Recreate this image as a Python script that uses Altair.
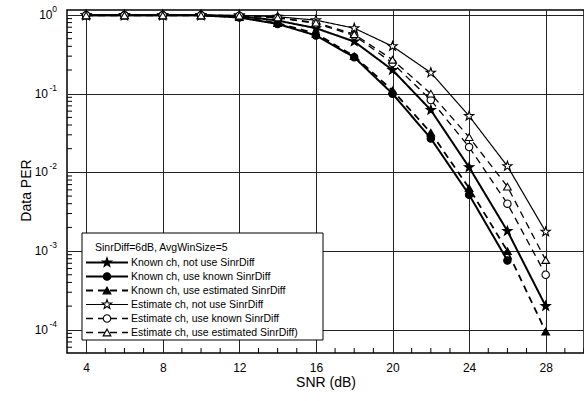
import altair as alt
import pandas as pd

# ---------------- data ----------------
snr = [4, 6, 8, 10, 12, 14, 16, 18, 20, 22, 24, 26, 28]
names = [
    "Known ch, not use SinrDiff",
    "Known ch, use known SinrDiff",
    "Known ch, use estimated SinrDiff",
    "Estimate ch, not use SinrDiff",
    "Estimate ch, use known SinrDiff",
    "Estimate ch, use estimated SinrDiff)",
]
known_no = [0.99, 0.99, 0.99, 0.99, 0.97, 0.85, 0.68, 0.46, 0.20, 0.062, 0.0116, 0.0018, 0.0002]
known_known = [0.99, 0.99, 0.99, 0.99, 0.93, 0.77, 0.55, 0.29, 0.10, 0.027, 0.0052, 0.00076]
known_est = [0.99, 0.99, 0.99, 0.99, 0.94, 0.79, 0.58, 0.30, 0.11, 0.032, 0.0063, 0.0010, 0.000095]
est_no = [0.99, 0.99, 0.99, 0.99, 0.99, 0.95, 0.86, 0.68, 0.40, 0.185, 0.052, 0.012, 0.00176]
est_known = [0.99, 0.99, 0.99, 0.99, 0.98, 0.92, 0.78, 0.55, 0.245, 0.083, 0.021, 0.004, 0.0005]
est_est = [0.99, 0.99, 0.99, 0.99, 0.98, 0.93, 0.80, 0.57, 0.27, 0.10, 0.028, 0.0066, 0.00077]
series_values = [known_no, known_known, known_est, est_no, est_known, est_est]

x_ticks = [4, 8, 12, 16, 20, 24, 28]
y_decades = [0, -1, -2, -3, -4]
legend_title = "SinrDiff=6dB, AvgWinSize=5"

# ---------------- styles ----------------
STAR = ("M0,-1L0.235,-0.324L0.951,-0.309L0.380,0.124L0.588,0.809L0,0.4"
        "L-0.588,0.809L-0.380,0.124L-0.951,-0.309L-0.235,-0.324Z")
shapes = [STAR, "circle", "triangle-up", STAR, "circle", "triangle-up"]
fills = ["black", "black", "black", "white", "white", "white"]
dashes = [[1, 0], [1, 0], [7, 5], [1, 0], [7, 5], [7, 5]]
widths = [2.0, 2.0, 1.8, 1.2, 1.3, 1.3]
sizes = [95, 55, 60, 95, 55, 60]
FONT = "Liberation Sans"

rows = []
for name, vals in zip(names, series_values):
    for s, v in zip(snr, vals):
        rows.append({"series": name, "snr": s, "per": v})
df = pd.DataFrame(rows)

W, H = 517, 343
xscale = alt.Scale(domain=[3, 30], nice=False, zero=False)
yscale = alt.Scale(type="log", domain=[10 ** -4.295, 10 ** 0.0635], nice=False)
xaxis = alt.Axis(values=x_ticks, grid=True, ticks=False, domain=False,
                 title="SNR (dB)", labelFontSize=12, labelPadding=9,
                 titleFontSize=14, titleFontWeight="normal",
                 titleY=22, titleBaseline="top")
yaxis = alt.Axis(values=[10.0 ** d for d in y_decades], grid=True,
                 labels=False, ticks=False, domain=False,
                 title="Data PER", titleFontSize=14,
                 titleFontWeight="normal", titleX=-41, titleY=180,
                 titleAngle=270, titleAlign="center", titleBaseline="middle")


def X(field):
    return alt.X(field, scale=xscale, axis=xaxis)


def Y(field):
    return alt.Y(field, scale=yscale, axis=yaxis)


layers = []

# lines per series
for i, name in enumerate(names):
    sub = alt.Chart(df).transform_filter(alt.datum.series == name)
    layers.append(sub.mark_line(color="black", strokeDash=dashes[i],
                                strokeWidth=widths[i]).encode(x=X("snr:Q"), y=Y("per:Q"),
                                                              order="snr:Q"))

# points per series
for i, name in enumerate(names):
    sub = alt.Chart(df).transform_filter(alt.datum.series == name)
    layers.append(sub.mark_point(shape=shapes[i], filled=True, fill=fills[i], stroke="black",
                                 strokeWidth=1.1, size=sizes[i], opacity=1).encode(
        x=X("snr:Q"), y=Y("per:Q")))

# minor ticks
y_minor = []
for d in range(-5, 1):
    for m in range(2, 10):
        v = m * 10.0 ** d
        if 10 ** -4.295 < v < 10 ** 0.0635:
            y_minor.append(v)
x_minor = [s for s in range(4, 31) if s not in x_ticks]
layers.append(alt.Chart(pd.DataFrame({"v": y_minor})).mark_rule(color="black", strokeWidth=1).encode(
    y=Y("v:Q"), x=alt.value(0), x2=alt.value(5)))
layers.append(alt.Chart(pd.DataFrame({"s": x_minor})).mark_rule(color="black", strokeWidth=1).encode(
    x=X("s:Q"), y=alt.value(H), y2=alt.value(H - 5)))

# y tick labels (10 with superscript exponent)
dec_df = pd.DataFrame({"v": [10.0 ** d for d in y_decades],
                       "e": [str(d) for d in y_decades],
                       "d": y_decades})
for cond, xoff in [(alt.datum.d == 0, -14.5), (alt.datum.d < 0, -19)]:
    layers.append(alt.Chart(dec_df).transform_filter(cond).mark_text(
        text="10", align="right", baseline="middle", fontSize=12, font=FONT, color="black").encode(
        y=Y("v:Q"), x=alt.value(xoff)))
layers.append(alt.Chart(dec_df).mark_text(
    align="right", baseline="middle", fontSize=8.5, dy=-6, font=FONT, color="black").encode(
    y=Y("v:Q"), x=alt.value(-10), text="e:N"))

# legend
one = pd.DataFrame({"a": [0]})
layers.append(alt.Chart(one).mark_rect(fill="white", stroke="black", strokeWidth=1).encode(
    x=alt.value(15), x2=alt.value(256), y=alt.value(223), y2=alt.value(330)))
layers.append(alt.Chart(one).mark_text(text=legend_title, align="left", baseline="middle",
                                       fontSize=10.5, font=FONT, color="black").encode(
    x=alt.value(28), y=alt.value(238)))
for i, name in enumerate(names):
    yy = 252.5 + 14 * i
    layers.append(alt.Chart(one).mark_rule(color="black", strokeDash=dashes[i],
                                           strokeWidth=widths[i]).encode(
        x=alt.value(19), x2=alt.value(61), y=alt.value(yy)))
    layers.append(alt.Chart(one).mark_point(shape=shapes[i], filled=True, fill=fills[i],
                                            stroke="black", strokeWidth=1.1, size=sizes[i],
                                            opacity=1).encode(
        x=alt.value(40), y=alt.value(yy)))
    layers.append(alt.Chart(one).mark_text(text=name, align="left", baseline="middle",
                                           fontSize=10.5, font=FONT, color="black").encode(
        x=alt.value(64), y=alt.value(yy)))

chart = alt.layer(*layers).properties(
    width=W, height=H,
    padding={"left": 67, "top": 10, "right": 0, "bottom": 48},
    autosize=alt.AutoSizeParams(type="none"),
    background="white",
).configure_view(stroke="black", strokeWidth=1.5).configure_axis(
    gridColor="#222222", gridWidth=1, gridOpacity=1, labelFont=FONT, titleFont=FONT,
    labelColor="black", titleColor="black")

chart.save("out.html", embed_options={"renderer": "svg", "actions": False})
